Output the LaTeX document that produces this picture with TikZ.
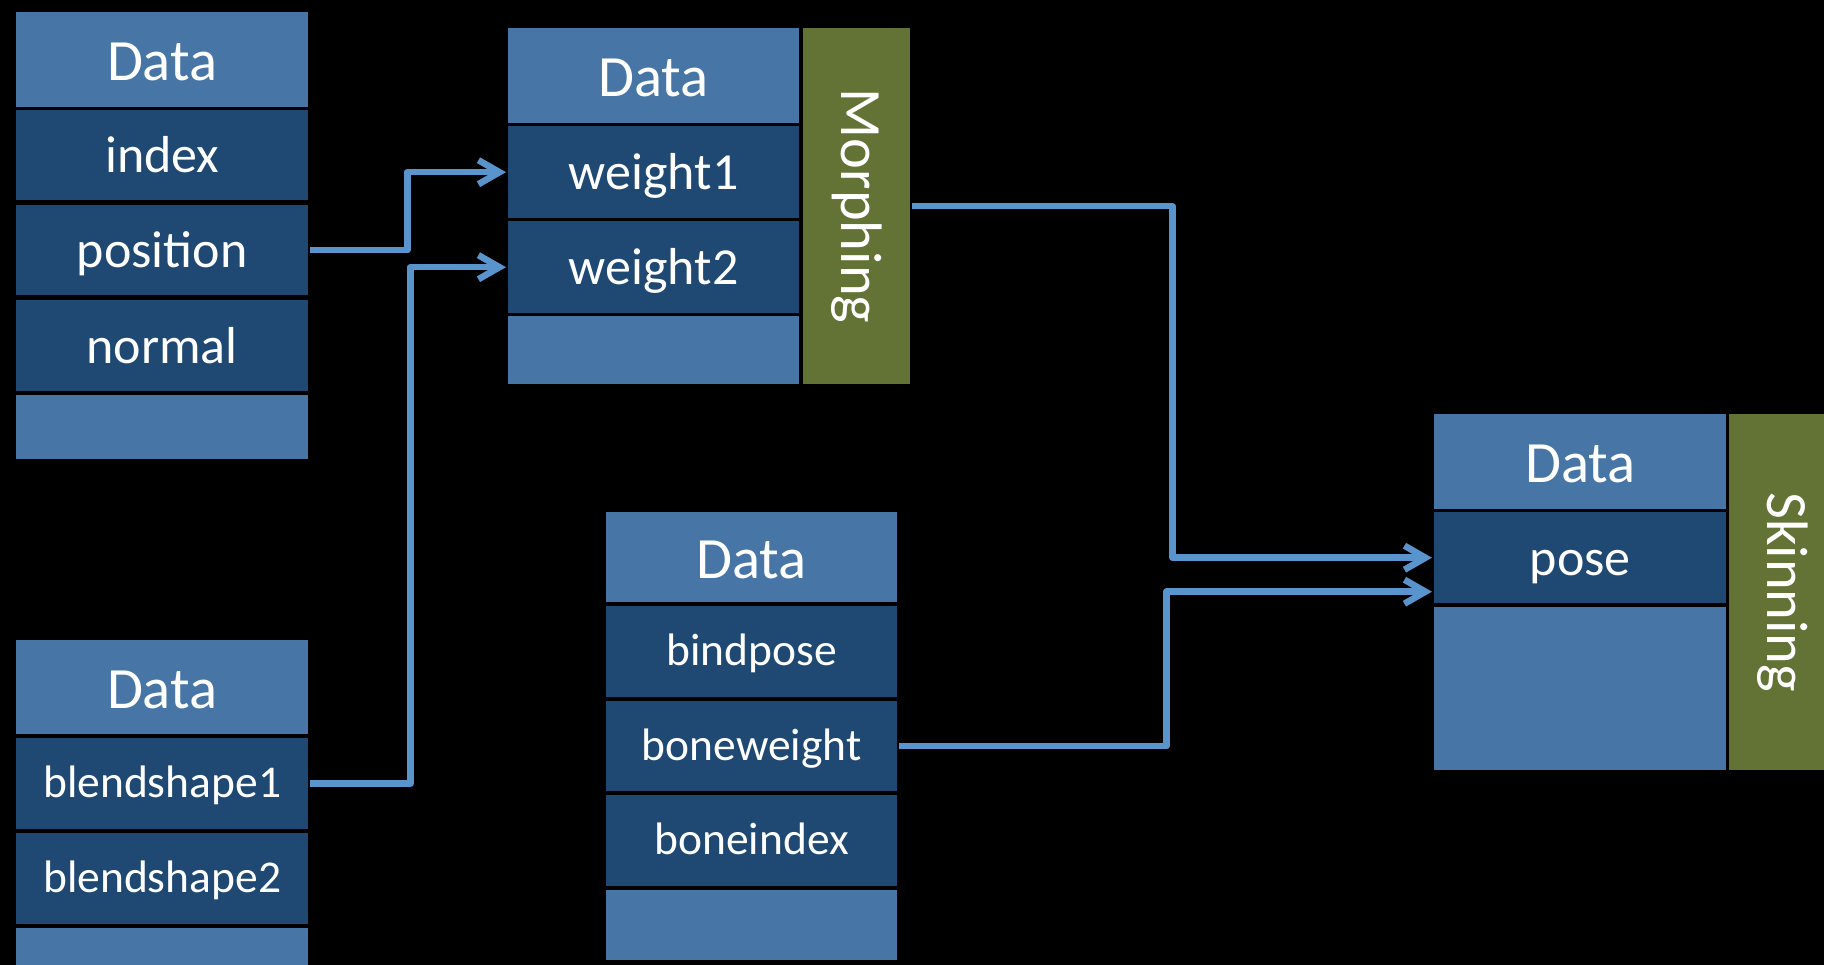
\documentclass[tikz,border=0pt]{standalone}
\usepackage{fontspec}
\usepackage{graphicx}
\setmainfont{Carlito}
\usetikzlibrary{arrows.meta}
\definecolor{lightb}{RGB}{70,117,166}
\definecolor{darkb}{RGB}{31,73,115}
\definecolor{grn}{RGB}{98,115,53}
\definecolor{arrowc}{RGB}{90,148,204}
\tikzset{
  cell/.style={anchor=north west, inner sep=0pt, text=white, align=center},
  hdr/.style={cell, fill=lightb, font=\fontsize{58.5}{62}\selectfont, text height=54pt, text depth=12pt},
  rowc/.style={cell, fill=darkb, font=\fontsize{52}{56}\selectfont, text height=48pt, text depth=13pt},
  rows/.style={cell, fill=darkb, font=\fontsize{45.5}{50}\selectfont, text height=40pt, text depth=12pt},
  blank/.style={cell, fill=lightb},
  proc/.style={cell, fill=grn, font=\fontsize{58.5}{62}\selectfont},
  link/.style={draw=arrowc, line width=6.5pt, line join=round, shorten <=2pt, shorten >=2pt,
    -{Straight Barb[length=21pt,width=24pt]}}
}
\begin{document}
\begin{tikzpicture}[x=1pt,y=-1pt]
\fill[black, use as bounding box] (0,0) rectangle (1824,965);
% Box A
\node[hdr,  minimum width=292pt, minimum height=95pt] (aD) at (16,12) {Data};
\node[rowc, minimum width=292pt, minimum height=90pt] (aI) at (16,110) {index};
\node[rowc, minimum width=292pt, minimum height=90pt] (aP) at (16,205) {position};
\node[rowc, minimum width=292pt, minimum height=91pt] (aN) at (16,300) {normal};
\node[blank,minimum width=292pt, minimum height=64pt] (aE) at (16,395) {};
% Box B
\node[hdr,  minimum width=291pt, minimum height=95pt] (bD) at (508,28) {Data};
\node[rowc, minimum width=291pt, minimum height=92pt] (bW1) at (508,126) {weight1};
\node[rowc, minimum width=291pt, minimum height=92pt] (bW2) at (508,221) {weight2};
\node[blank,minimum width=291pt, minimum height=68pt] (bE) at (508,316) {};
\node[proc, minimum width=107pt, minimum height=356pt] (bM) at (803,28) {\rotatebox{-90}{Morphing}};
% Box C
\node[hdr,  minimum width=292pt, minimum height=94pt] (cD) at (16,640) {Data};
\node[rows, minimum width=292pt, minimum height=91pt] (cB1) at (16,738) {blendshape1};
\node[rows, minimum width=292pt, minimum height=91pt] (cB2) at (16,833) {blendshape2};
\node[blank,minimum width=292pt, minimum height=80pt] (cE) at (16,928) {};
% Box E
\node[hdr,  minimum width=291pt, minimum height=90pt] (eD) at (606,512) {Data};
\node[rows, minimum width=291pt, minimum height=91pt] (eBP) at (606,606) {bindpose};
\node[rows, minimum width=291pt, minimum height=90pt] (eBW) at (606,701) {boneweight};
\node[rows, minimum width=291pt, minimum height=91pt] (eBI) at (606,795) {boneindex};
\node[blank,minimum width=291pt, minimum height=70pt] (eE) at (606,890) {};
% Box D
\node[hdr,  minimum width=292pt, minimum height=95pt] (dD) at (1434,414) {Data};
\node[rowc, minimum width=292pt, minimum height=91pt] (dP) at (1434,512) {pose};
\node[blank,minimum width=292pt, minimum height=163pt] (dE) at (1434,607) {};
\node[proc, minimum width=107pt, minimum height=356pt] (dS) at (1729,414) {\rotatebox{-90}{Skinning}};
% Links
\draw[link] (aP.east) -- ++(99,0) |- (bW1.west);
\draw[link] (cB1.east) -- ++(102,0) |- (bW2.west);
\draw[link] (bM.east) -- ++(262,0) |- (dP.west);
\draw[link] (eBW.east) -- ++(269,0) |- ([yshift=-34pt]dP.west);
\end{tikzpicture}
\end{document}
